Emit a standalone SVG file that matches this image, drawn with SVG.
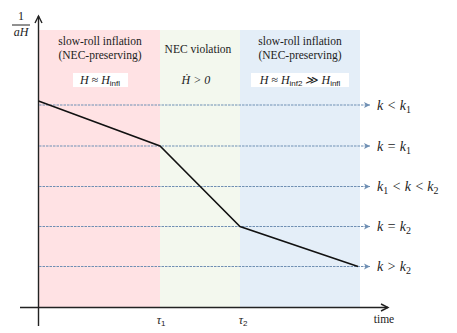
<svg xmlns="http://www.w3.org/2000/svg" width="457" height="333" viewBox="0 0 457 333">
<style>
.t{font-family:"Liberation Serif","Times New Roman",serif;font-size:11.5px;fill:#222;text-anchor:middle}
.m{font-family:"Liberation Serif","Times New Roman",serif;font-style:italic;font-size:12px;fill:#222}
.k{font-family:"Liberation Serif","Times New Roman",serif;font-style:italic;font-size:14px;fill:#222}
.sub{font-family:"Liberation Sans",Arial,sans-serif;font-style:normal;font-size:8px}
.ks{font-style:normal;font-size:10px}
.up{font-style:normal}
.dash{stroke:#6f8fb3;stroke-width:1.2;stroke-dasharray:2.5 1;fill:none}
.ax{stroke:#222;stroke-width:1.4;fill:none}
</style>
<defs>
<marker id="ah" markerWidth="8" markerHeight="8" refX="7" refY="4" orient="auto" markerUnits="userSpaceOnUse">
<path d="M1,1 L7,4 L1,7 L2.5,4 Z" fill="#6f8fb3"/>
</marker>
<marker id="axh" markerWidth="10" markerHeight="10" refX="8" refY="5" orient="auto" markerUnits="userSpaceOnUse">
<path d="M1,1.5 L8,5 L1,8.5" fill="none" stroke="#222" stroke-width="1.4"/>
</marker>
</defs>
<rect width="457" height="333" fill="#fff"/>
<g id="phase1">
<rect x="39" y="30" width="121" height="277" fill="#ffe2e4"/>
<text class="t" x="100" y="45">slow-roll inflation</text>
<text class="t" x="100" y="59">(NEC-preserving)</text>
<rect x="73" y="73" width="55" height="14" fill="#fff"/>
<text class="m" x="100" y="84" text-anchor="middle">H ≈ H<tspan class="sub" dy="2">infl</tspan></text>
</g>
<g id="phase2">
<rect x="160" y="30" width="80" height="277" fill="#f3f8ee"/>
<text class="t" x="198" y="53">NEC violation</text>
<text class="m" x="196" y="84" text-anchor="middle">Ḣ &gt; 0</text>
</g>
<g id="phase3">
<rect x="240" y="30" width="120" height="277" fill="#e4eef8"/>
<text class="t" x="300" y="45">slow-roll inflation</text>
<text class="t" x="300" y="59">(NEC-preserving)</text>
<rect x="251" y="73" width="98" height="14" fill="#fff"/>
<text class="m" x="300" y="84" text-anchor="middle">H ≈ H<tspan class="sub" dy="2">inf2</tspan><tspan dy="-2"> ≫ H</tspan><tspan class="sub" dy="2">infl</tspan></text>
</g>
<g id="axes">
<line class="ax" x1="38.5" y1="326" x2="38.5" y2="16" marker-end="url(#axh)"/>
<line class="ax" x1="20" y1="307.5" x2="388" y2="307.5" marker-end="url(#axh)"/>
<text class="m up" x="21" y="20" text-anchor="middle">1</text>
<line x1="12" y1="25" x2="30" y2="25" stroke="#222" stroke-width="1"/>
<text class="m" x="21" y="36" text-anchor="middle">aH</text>
<text class="m" x="161" y="324" text-anchor="middle" font-size="13">τ<tspan class="sub" dy="2" font-family="Liberation Serif" font-size="9">1</tspan></text>
<text class="m" x="243" y="324" text-anchor="middle" font-size="13">τ<tspan class="sub" dy="2" font-family="Liberation Serif" font-size="9">2</tspan></text>
<text class="t" x="384" y="323">time</text>
</g>
<g id="connectors">
<line class="dash" x1="39" y1="105" x2="370" y2="105" marker-end="url(#ah)"/>
<line class="dash" x1="39" y1="146" x2="370" y2="146" marker-end="url(#ah)"/>
<line class="dash" x1="39" y1="186.5" x2="370" y2="186.5" marker-end="url(#ah)"/>
<line class="dash" x1="39" y1="226.5" x2="370" y2="226.5" marker-end="url(#ah)"/>
<line class="dash" x1="39" y1="266.5" x2="370" y2="266.5" marker-end="url(#ah)"/>
<polyline points="38.5,101 160,146 240,226.5 358,266.5" fill="none" stroke="#111" stroke-width="1.5"/>
</g>
<g id="labels">
<text class="k" x="377" y="110">k &lt; k<tspan class="ks" dy="3">1</tspan></text>
<text class="k" x="377" y="151">k = k<tspan class="ks" dy="3">1</tspan></text>
<text class="k" x="377" y="191">k<tspan class="ks" dy="3">1</tspan><tspan dy="-3"> &lt; k &lt; k</tspan><tspan class="ks" dy="3">2</tspan></text>
<text class="k" x="377" y="231">k = k<tspan class="ks" dy="3">2</tspan></text>
<text class="k" x="377" y="271">k &gt; k<tspan class="ks" dy="3">2</tspan></text>
</g>
</svg>
